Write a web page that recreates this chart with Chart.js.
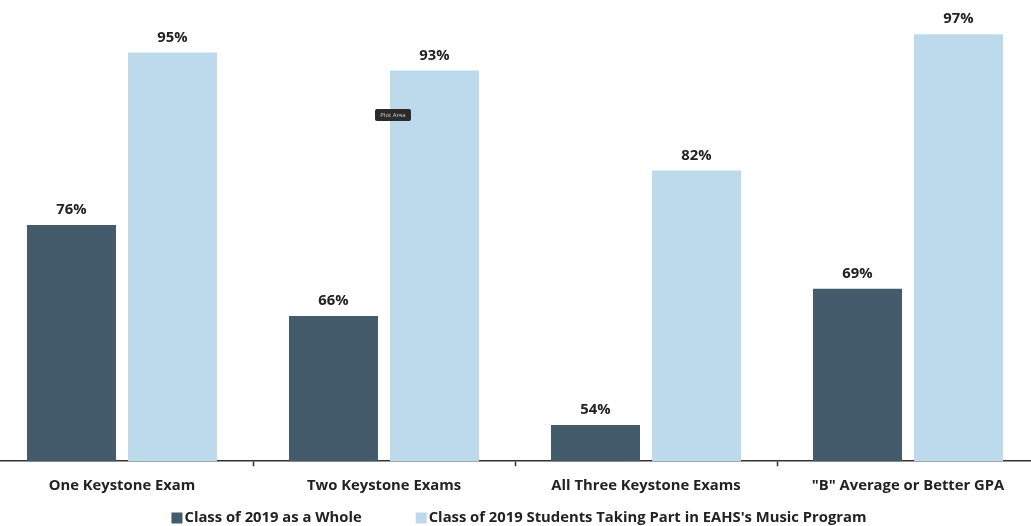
<!DOCTYPE html>
<html>
<head>
<meta charset="utf-8">
<script src="https://cdn.jsdelivr.net/npm/chart.js@4.4.0/dist/chart.umd.min.js"></script>
<style>
html,body{margin:0;padding:0;background:#fff;overflow:hidden;width:1031px;height:526px;}
#wrap{position:absolute;left:-9px;top:0;width:1048px;height:526px;}
</style>
</head>
<body>
<div id="wrap"><canvas id="c" width="1048" height="526"></canvas></div>
<script>
const categories = ['One Keystone Exam', 'Two Keystone Exams', 'All Three Keystone Exams', '"B" Average or Better GPA'];
const seriesNames = ['Class of 2019 as a Whole', "Class of 2019 Students Taking Part in EAHS's Music Program"];
const classWhole = [76, 66, 54, 69];
const musicProgram = [95, 93, 82, 97];
const yMin = 50, yMax = 100;

const FONT = '"Open Sans", sans-serif';
const TEXT = '#222';
const FS = 14.8;

const labelPlugin = {
  id: 'valueLabels',
  afterDatasetsDraw(chart) {
    const ctx = chart.ctx;
    ctx.save();
    ctx.font = 'bold ' + FS + 'px ' + FONT;
    ctx.fillStyle = TEXT;
    ctx.textAlign = 'center';
    ctx.textBaseline = 'middle';
    chart.data.datasets.forEach((ds, i) => {
      chart.getDatasetMeta(i).data.forEach((bar, j) => {
        ctx.fillText(ds.data[j] + '%', bar.x, bar.y - 15);
      });
    });
    // screenshot artifact tooltip
    ctx.fillStyle = '#2b2b2b';
    ctx.beginPath();
    ctx.roundRect(384, 109, 36, 12, 2);
    ctx.fill();
    ctx.fillStyle = '#cfcfcf';
    ctx.font = '6px ' + FONT;
    ctx.fillText('Plot Area', 402, 115);
    ctx.restore();
  },
  afterDraw(chart) {
    const ctx = chart.ctx;
    ctx.save();
    ctx.font = 'bold ' + FS + 'px ' + FONT;
    ctx.textBaseline = 'middle';
    ctx.textAlign = 'left';
    const box = 11, boxGap = 2, itemGap = 54, y = 518;
    const items = chart.data.datasets.map(ds => ({ text: ds.label, color: ds.backgroundColor, w: ctx.measureText(ds.label).width }));
    let total = 0;
    items.forEach((it, i) => { total += box + boxGap + it.w + (i > 0 ? itemGap : 0); });
    let x = chart.width / 2 + 4 - total / 2;
    items.forEach((it, i) => {
      if (i > 0) x += itemGap;
      ctx.fillStyle = it.color;
      ctx.fillRect(x, y - box / 2, box, box);
      x += box + boxGap;
      ctx.fillStyle = TEXT;
      ctx.fillText(it.text, x, y);
      x += it.w;
    });
    ctx.restore();
  }
};

new Chart(document.getElementById('c'), {
  type: 'bar',
  data: {
    labels: categories,
    datasets: [
      { label: seriesNames[0], data: classWhole, backgroundColor: '#445b6b', categoryPercentage: 0.771, barPercentage: 0.881 },
      { label: seriesNames[1], data: musicProgram, backgroundColor: '#bdd9ec', categoryPercentage: 0.771, barPercentage: 0.881 }
    ]
  },
  options: {
    responsive: false,
    animation: false,
    layout: { padding: { top: 7, left: 0, right: 0, bottom: 20 } },
    plugins: {
      tooltip: { enabled: false },
      legend: { display: false }
    },
    scales: {
      x: {
        grid: { display: true, drawOnChartArea: false, offset: true, tickLength: 5, color: '#333', tickWidth: 1.5 },
        border: { display: true, color: '#333', width: 1.5 },
        ticks: { font: { family: FONT, size: FS, weight: 'bold' }, color: TEXT, padding: 11, maxRotation: 0 }
      },
      y: {
        display: false,
        min: yMin, max: yMax
      }
    }
  },
  plugins: [labelPlugin]
});
</script>
</body>
</html>
